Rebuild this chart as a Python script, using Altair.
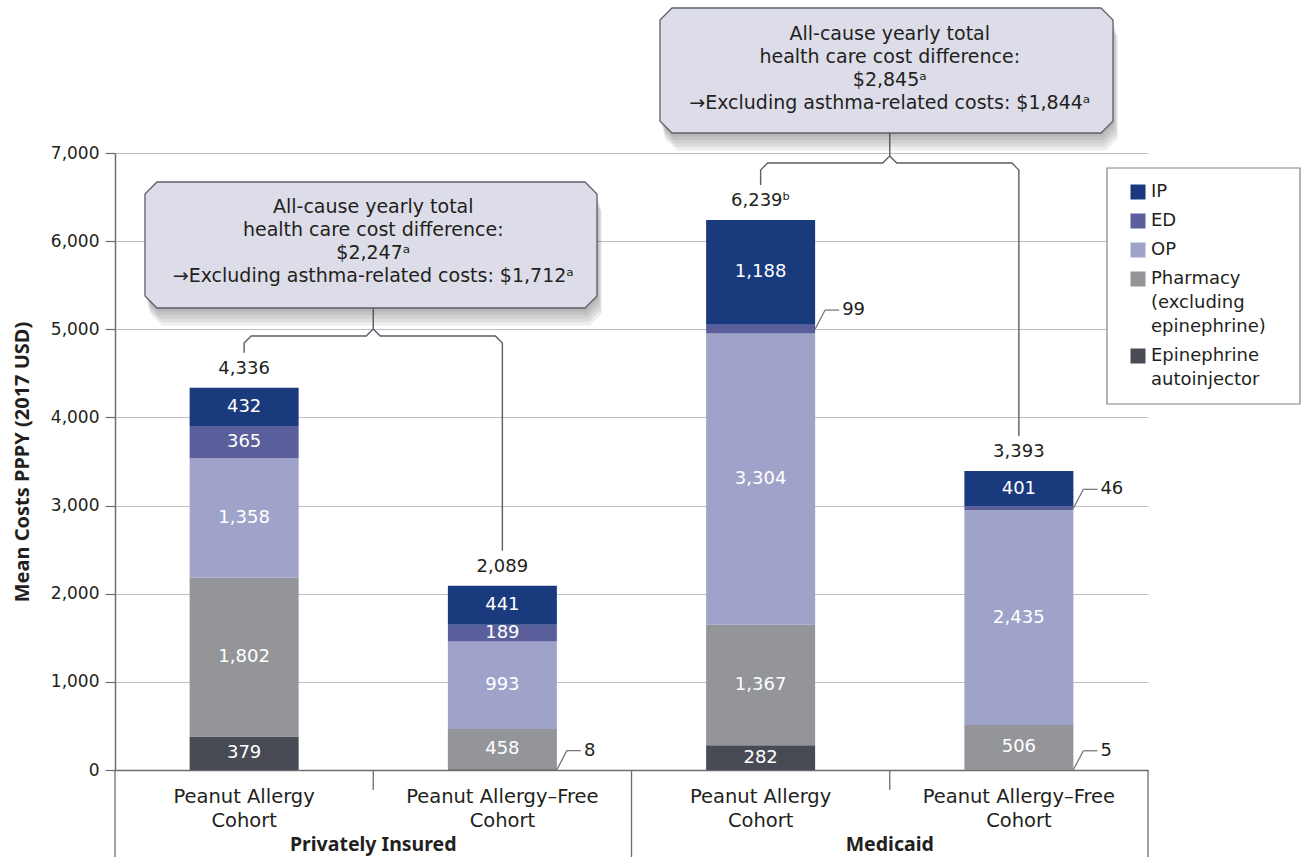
import altair as alt
import pandas as pd

# ---------------- data ----------------
group_names = ["Privately Insured", "Medicaid"]
cohort_names = ["Peanut Allergy Cohort", "Peanut Allergy–Free Cohort",
                "Peanut Allergy Cohort", "Peanut Allergy–Free Cohort"]
categories = ["IP", "ED", "OP", "Pharmacy (excluding epinephrine)", "Epinephrine autoinjector"]
ip_costs = [432, 441, 1188, 401]
ed_costs = [365, 189, 99, 46]
op_costs = [1358, 993, 3304, 2435]
pharmacy_costs = [1802, 458, 1367, 506]
epinephrine_costs = [379, 8, 282, 5]
total_labels = ["4,336", "2,089", "6,239ᵇ", "3,393"]
callout_lines = [
    ["All-cause yearly total", "health care cost difference:", "$2,247ᵃ",
     "→Excluding asthma-related costs: $1,712ᵃ"],
    ["All-cause yearly total", "health care cost difference:", "$2,845ᵃ",
     "→Excluding asthma-related costs: $1,844ᵃ"],
]
legend_lines = [["IP"], ["ED"], ["OP"], ["Pharmacy", "(excluding", "epinephrine)"],
                ["Epinephrine", "autoinjector"]]
y_ticks = [0, 1000, 2000, 3000, 4000, 5000, 6000, 7000]

# ---------------- style ----------------
FONT = "DejaVu Sans"
BOLD_FONT = "Noto Sans"
TEXT = "#231f20"
AXIS = "#6d6e71"
GRID = "#bdbfc2"
BOX_FILL = "#dcdde8"
BOX_STROKE = "#5c5f68"
colors = ["#1a3a7e", "#5a5f9b", "#9fa3c9", "#939599", "#484b54"]

# ---------------- layout ----------------
W, H = 1033, 617          # plot area
LEFT, TOP = 115, 153      # plot origin on the page
NSLOT = 4
YMAX = 7000
PX_X = W / NSLOT          # pixels per x unit
PX_Y = H / YMAX           # pixels per y unit
BAR_PX = 109


def xd(px):
    return (px - LEFT) / PX_X


def yd(py):
    return (TOP + H - py) / PX_Y


xs = alt.Scale(domain=[0, NSLOT], nice=False, zero=False, padding=0)
ys = alt.Scale(domain=[0, YMAX], nice=False, zero=True, padding=0)
x_axis = alt.Axis(labels=False, ticks=False, grid=False, title=None,
                  domainColor=AXIS, domainWidth=1.5)
y_axis = alt.Axis(values=y_ticks, labelExpr="format(datum.value, ',')",
                  title="Mean Costs PPPY (2017 USD)",
                  titleFont=BOLD_FONT, titleFontSize=20, titleFontWeight="bold",
                  titleColor=TEXT, titlePadding=18,
                  labelFont=FONT, labelFontSize=17, labelColor=TEXT, labelPadding=6,
                  tickSize=10, tickColor=AXIS, tickWidth=1.2,
                  domainColor=AXIS, domainWidth=1.5,
                  grid=True, gridColor=GRID, gridWidth=1)
X = lambda f: alt.X(f, type="quantitative", scale=xs, axis=x_axis)
Y = lambda f: alt.Y(f, type="quantitative", scale=ys, axis=y_axis)

# ---------------- stacked bars ----------------
stack_series = [epinephrine_costs, pharmacy_costs, op_costs, ed_costs, ip_costs]
stack_cats = list(reversed(categories))
rows = []
for slot in range(NSLOT):
    for rank, (cat, vals) in enumerate(zip(stack_cats, stack_series)):
        rows.append({"slot": slot, "category": cat, "rank": rank, "value": vals[slot]})
bars_df = pd.DataFrame(rows)

color = alt.Color("category:N", scale=alt.Scale(domain=categories, range=colors), legend=None)

base = (
    alt.Chart(bars_df)
    .transform_stack(stack="value", groupby=["slot"], sort=[alt.SortField("rank")], as_=["y0", "y1"])
    .transform_calculate(xc="datum.slot + 0.5", ym="(datum.y0 + datum.y1) / 2")
)

bar_layer = base.mark_bar(size=BAR_PX).encode(
    x=X("xc"), y=Y("y0"), y2="y1:Q", color=color)

inner_labels = base.transform_filter("datum.value >= 100").mark_text(
    font=FONT, fontSize=18, color="white", baseline="middle"
).encode(x=X("xc"), y=Y("ym"), text=alt.Text("value:Q", format=","))

# leader lines for the thin segments
half = (BAR_PX / 2) / PX_X
d1 = 10 / PX_X
d2 = 24 / PX_X
rise = 19 / PX_Y
small = base.transform_filter("datum.value < 100").transform_calculate(
    lx0=f"datum.xc + {half}", lx1=f"datum.xc + {half + d1}", lx2=f"datum.xc + {half + d2}",
    ly1=f"datum.ym + {rise}",
)
leader_diag = small.mark_rule(color=AXIS, strokeWidth=1.2).encode(
    x=X("lx0"), x2="lx1:Q", y=Y("ym"), y2="ly1:Q")
leader_flat = small.mark_rule(color=AXIS, strokeWidth=1.2).encode(
    x=X("lx1"), x2="lx2:Q", y=Y("ly1"))
leader_text = small.mark_text(font=FONT, fontSize=18, color=TEXT, align="left",
                              baseline="middle", dx=3).encode(
    x=X("lx2"), y=Y("ly1"), text=alt.Text("value:Q", format=","))

# totals above each bar
totals = [sum(s[i] for s in stack_series) for i in range(NSLOT)]
totals_df = pd.DataFrame({"xc": [i + 0.5 for i in range(NSLOT)], "total": totals,
                          "label": total_labels})
total_text = alt.Chart(totals_df).mark_text(font=FONT, fontSize=18, color=TEXT,
                                            baseline="middle", dy=-19).encode(
    x=X("xc"), y=Y("total"), text="label:N")

# ---------------- callout boxes ----------------
boxes_px = [  # left, right, top, bottom
    (145, 597, 182, 308),
    (660, 1113, 8, 133),
]
CH = 12


def octagon(box_id, l, r, t, b, dx=0, dy=0):
    xs_px = [l, l + CH, r - CH, r]
    tops = [t + CH, t, t, t + CH]
    bots = [b - CH, b, b, b - CH]
    return [{"id": box_id, "x": xd(x + dx), "y": yd(tp + dy), "y2": yd(bt + dy)}
            for x, tp, bt in zip(xs_px, tops, bots)]


shadow_rows = []
for g, bx in enumerate(boxes_px):
    for k in range(1, 6):
        shadow_rows += octagon(f"{g}-{k}", *bx, dx=k * 1.0, dy=k * 3.5)
box_rows = []
for g, bx in enumerate(boxes_px):
    box_rows += octagon(str(g), *bx)

shadow_layer = alt.Chart(pd.DataFrame(shadow_rows)).mark_area(
    color="#444", opacity=0.09).encode(x=X("x"), y=Y("y"), y2="y2:Q", detail="id:N")
box_layer = alt.Chart(pd.DataFrame(box_rows)).mark_area(
    fill=BOX_FILL, stroke=BOX_STROKE, strokeWidth=1.3, opacity=1).encode(
    x=X("x"), y=Y("y"), y2="y2:Q", detail="id:N")

callout_text_rows = []
first_line_py = [207, 34]
for g, lines in enumerate(callout_lines):
    for k, line in enumerate(lines):
        callout_text_rows.append({"x": 2 * g + 1, "y": yd(first_line_py[g] + 23 * k), "t": line})
callout_text = alt.Chart(pd.DataFrame(callout_text_rows)).mark_text(
    font=FONT, fontSize=19, color=TEXT, baseline="middle").encode(
    x=X("x"), y=Y("y"), text="t:N")

# braces linking each box to its pair of bars
brace_py = [336, 163]
gap = 35 / PX_Y
rx, ry = 7 / PX_X, 7 / PX_Y
brace_rows = []
for g, bx in enumerate(boxes_px):
    sx = 2 * g + 1
    xl, xr = 2 * g + 0.5, 2 * g + 1.5
    hy = yd(brace_py[g])
    left_pts = [(xl, totals[2 * g] + gap), (xl, hy - ry), (xl + rx, hy), (sx - rx, hy),
                (sx, hy + ry), (sx, yd(bx[3]))]
    right_pts = [(xr, totals[2 * g + 1] + gap), (xr, hy - ry), (xr - rx, hy), (sx + rx, hy),
                 (sx, hy + ry)]
    for side, pts in (("L", left_pts), ("R", right_pts)):
        for i, (px_, py_) in enumerate(pts):
            brace_rows.append({"path": f"{g}{side}", "i": i, "x": px_, "y": py_})
brace_layer = alt.Chart(pd.DataFrame(brace_rows)).mark_line(
    color=BOX_STROKE, strokeWidth=1.4).encode(
    x=X("x"), y=Y("y"), order="i:Q", detail="path:N")

# ---------------- category axis ----------------
div_rows = [{"x": v, "y": 0, "y2": yd(857)} for v in (0, 2, 4)] + \
           [{"x": v, "y": 0, "y2": yd(790)} for v in (1, 3)]
dividers = alt.Chart(pd.DataFrame(div_rows)).mark_rule(color=AXIS, strokeWidth=1.3).encode(
    x=X("x"), y=Y("y"), y2="y2:Q")

cohort_rows = []
for i, name in enumerate(cohort_names):
    first, last = name.rsplit(" ", 1)
    cohort_rows.append({"x": i + 0.5, "y": yd(797), "t": first})
    cohort_rows.append({"x": i + 0.5, "y": yd(821), "t": last})
cohort_text = alt.Chart(pd.DataFrame(cohort_rows)).mark_text(
    font=FONT, fontSize=19.5, color=TEXT, baseline="middle").encode(
    x=X("x"), y=Y("y"), text="t:N")

group_df = pd.DataFrame({"x": [1, 3], "y": [yd(845)] * 2, "t": group_names})
group_text = alt.Chart(group_df).mark_text(
    font=BOLD_FONT, fontSize=19.5, fontWeight="bold", color=TEXT, baseline="middle").encode(
    x=X("x"), y=Y("y"), text="t:N")

# ---------------- legend ----------------
leg_box = pd.DataFrame([{"x": xd(1107), "x2": xd(1300), "y": yd(168), "y2": yd(404)}])
legend_box = alt.Chart(leg_box).mark_rect(fill="white", stroke="#808285", strokeWidth=1.2).encode(
    x=X("x"), x2="x2:Q", y=Y("y"), y2="y2:Q")

sw_rows, lt_rows = [], []
py = 192
for cat, lines in zip(categories, legend_lines):
    sw_rows.append({"category": cat, "x": xd(1138), "y": yd(py)})
    for k, line in enumerate(lines):
        lt_rows.append({"x": xd(1151), "y": yd(py + 24 * k), "t": line})
    py += 24 * (len(lines) - 1) + 29
legend_swatch = alt.Chart(pd.DataFrame(sw_rows)).mark_square(size=225, opacity=1).encode(
    x=X("x"), y=Y("y"), color=color)
legend_text = alt.Chart(pd.DataFrame(lt_rows)).mark_text(
    font=FONT, fontSize=18, color=TEXT, align="left", baseline="middle").encode(
    x=X("x"), y=Y("y"), text="t:N")

chart = alt.layer(
    bar_layer, inner_labels, leader_diag, leader_flat, leader_text, total_text,
    brace_layer, shadow_layer, box_layer, callout_text,
    dividers, cohort_text, group_text,
    legend_box, legend_swatch, legend_text,
).properties(
    width=W, height=H,
    autosize=alt.AutoSizeParams(type="none"),
    padding={"left": LEFT, "top": TOP, "right": 1302 - LEFT - W, "bottom": 857 - TOP - H},
    background="white",
).configure_view(stroke=None)

chart.save("out.html", embed_options={"renderer": "svg", "actions": False})
